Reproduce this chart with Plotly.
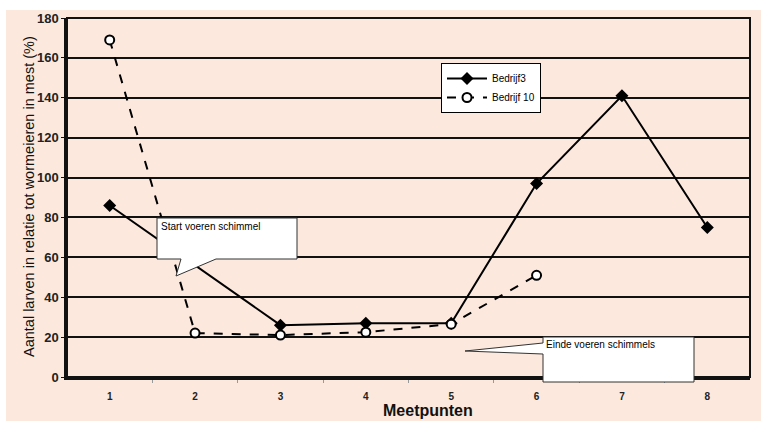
import plotly.graph_objects as go

meetpunten = [1, 2, 3, 4, 5, 6, 7, 8]
bedrijf3 = [86, None, 26, 27, 27, 97, 141, 75]
bedrijf10 = [169, 22, 21, 22.5, 26.5, 51, None, None]
y_ticks = [0, 20, 40, 60, 80, 100, 120, 140, 160, 180]

PEACH = "#FCE8DD"
L, R, T, B = 67, 11, 18, 44
W, H = 761, 421
PW, PH = W - L - R, H - T - B
FONT = "Liberation Sans, Arial, Helvetica"


def px(x):
    return (x - L) / PW


def py(y):
    return (H - B - y) / PH


fig = go.Figure()
fig.add_trace(go.Scatter(
    x=meetpunten, y=bedrijf3, name="Bedrijf3", mode="lines+markers",
    connectgaps=True,
    line=dict(color="black", width=2),
    marker=dict(symbol="diamond", size=10, color="black"),
))
fig.add_trace(go.Scatter(
    x=meetpunten, y=bedrijf10, name="Bedrijf 10", mode="lines+markers",
    line=dict(color="black", width=2, dash="dash"),
    marker=dict(symbol="circle", size=9, color="white",
                line=dict(color="black", width=2)),
))

shapes = []
# white strips outside the peach background
shapes.append(dict(type="rect", xref="paper", yref="paper", x0=px(-5), x1=px(770),
                   y0=py(10), y1=py(-5), fillcolor="white", line_width=0, layer="below"))
shapes.append(dict(type="rect", xref="paper", yref="paper", x0=px(-5), x1=px(6),
                   y0=py(430), y1=py(-5), fillcolor="white", line_width=0, layer="below"))
# frame
shapes.append(dict(type="rect", xref="paper", yref="paper", x0=0, x1=1, y0=0, y1=1,
                   line=dict(color="#111", width=2), layer="above"))

# callout 1
path1 = ("M {x0},{y0} L {x1},{y0} L {x1},{y1} L {bx2},{y1} L {tx},{ty} "
         "L {bx1},{y1} L {x0},{y1} Z").format(
    x0=px(157), x1=px(297), y0=py(218), y1=py(259),
    bx1=px(181), bx2=px(216), tx=px(176), ty=py(276))
shapes.append(dict(type="path", xref="paper", yref="paper", path=path1,
                   fillcolor="white", line=dict(color="#333", width=1), layer="above"))
# callout 2
path2 = ("M {x0},{y0} L {x1},{y0} L {x1},{y1} L {x0},{y1} L {x0},{b2} "
         "L {tx},{ty} L {x0},{b1} Z").format(
    x0=px(543), x1=px(694), y0=py(337), y1=py(382),
    b1=py(343), b2=py(354), tx=px(465), ty=py(351))
shapes.append(dict(type="path", xref="paper", yref="paper", path=path2,
                   fillcolor="white", line=dict(color="#333", width=1), layer="above"))

annotations = [
    dict(text="Start voeren schimmel", xref="paper", yref="paper",
         x=px(159), y=py(219), xanchor="left", yanchor="top", showarrow=False,
         font=dict(size=10, color="black", family=FONT)),
    dict(text="Einde voeren schimmels", xref="paper", yref="paper",
         x=px(544), y=py(337), xanchor="left", yanchor="top", showarrow=False,
         font=dict(size=10, color="black", family=FONT)),
    dict(text="<b>Meetpunten</b>", xref="paper", yref="paper",
         x=px(428), y=py(420), xanchor="center", yanchor="bottom", showarrow=False,
         borderpad=0,
         font=dict(size=16, color="#111", family=FONT)),
    dict(text="Aantal larven in relatie tot wormeieren in mest (%)", xref="paper", yref="paper",
         x=px(29), y=py(197), xanchor="center", yanchor="middle", showarrow=False,
         textangle=-90,
         font=dict(size=14.5, color="#111", family=FONT)),
]

fig.update_layout(
    width=W, height=H,
    margin=dict(l=L, r=R, t=T, b=B, autoexpand=False),
    paper_bgcolor=PEACH, plot_bgcolor=PEACH,
    font=dict(family=FONT, color="#111"),
    shapes=shapes, annotations=annotations,
    legend=dict(x=px(441), y=py(63), xanchor="left", yanchor="top",
                bgcolor="white", bordercolor="black", borderwidth=1,
                font=dict(size=10, color="black", family=FONT), tracegroupgap=0,
                itemwidth=40),
    showlegend=True,
)
fig.update_xaxes(
    range=[0.5, 8.5], tickvals=meetpunten, ticktext=["<b>%d</b>" % v for v in meetpunten],
    showgrid=False, zeroline=False, showline=True, linecolor="#111", linewidth=3,
    ticks="", ticklabelstandoff=8,
    tickfont=dict(size=10, color="#222", family=FONT),
    minor=dict(tickvals=[1.5, 2.5, 3.5, 4.5, 5.5, 6.5, 7.5], ticks="outside",
               ticklen=3, tickcolor="#999"),
)
fig.update_yaxes(
    range=[0, 180], tickvals=y_ticks, ticktext=["<b>%d</b>" % v for v in y_ticks],
    showgrid=True, gridcolor="#111", gridwidth=1.5, zeroline=False,
    showline=True, linecolor="#111", linewidth=2.5,
    ticks="outside", ticklen=3, tickcolor="#111",
    tickfont=dict(size=13, color="#222", family=FONT),
)

fig.write_html("out.html", config={"displayModeBar": False},
               post_script="document.body.style.margin='0px';document.body.style.padding='0px';")
